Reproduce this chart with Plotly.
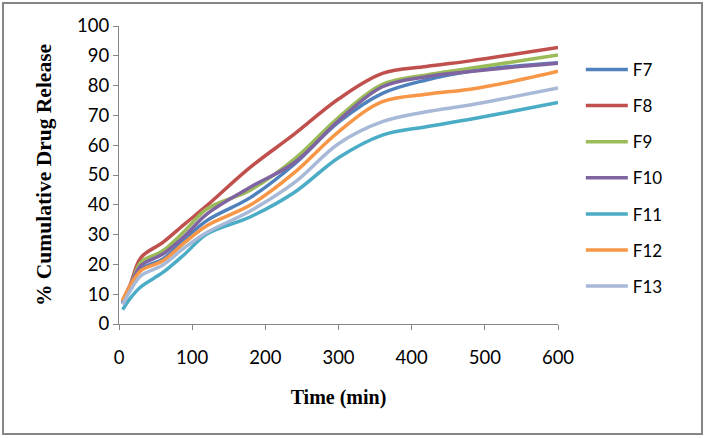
import plotly.graph_objects as go

time_min = [5, 15, 30, 60, 90, 120, 180, 240, 300, 360, 420, 480, 540, 600]
F7 = [7.0, 12.5, 18.4, 21.8, 28.5, 34.7, 42.5, 53.7, 67.7, 77.4, 81.9, 84.8, 86.5, 87.7]
F8 = [8.0, 13.0, 22.3, 27.4, 33.6, 39.7, 52.7, 63.8, 75.5, 84.1, 86.4, 88.3, 90.5, 92.8]
F9 = [7.5, 12.5, 20.7, 24.6, 31.3, 38.6, 45.0, 55.4, 69.3, 80.4, 83.6, 85.8, 88.0, 90.3]
F10 = [7.0, 12.5, 19.6, 23.5, 29.6, 36.9, 46.0, 54.2, 68.2, 79.6, 83.0, 84.7, 86.2, 87.5]
F11 = [4.8, 8.5, 12.5, 17.3, 23.5, 30.2, 36.0, 44.2, 55.8, 63.4, 66.2, 68.7, 71.5, 74.3]
F12 = [7.8, 12.8, 17.9, 21.2, 27.4, 33.0, 40.0, 50.9, 64.5, 74.6, 77.1, 78.8, 81.5, 84.8]
F13 = [6.5, 11.0, 16.2, 19.8, 25.7, 30.7, 38.0, 47.5, 60.5, 67.9, 71.2, 73.5, 76.3, 79.2]

series_names = ["F7", "F8", "F9", "F10", "F11", "F12", "F13"]
series_values = [F7, F8, F9, F10, F11, F12, F13]
colors = ["#4F81BD", "#C0504D", "#9BBB59", "#8064A2", "#4BACC6", "#F79646", "#A7B9D7"]

fig = go.Figure()
for name, vals, col in zip(series_names, series_values, colors):
    fig.add_trace(go.Scatter(
        x=time_min, y=vals, name=name, mode="lines",
        line=dict(color=col, width=3.5, shape="spline", smoothing=1),
        legendgroup=name,
    ))

axis_color = "#868686"
L, T, PW, PH = 119, 26, 439, 298
fig.update_layout(
    width=706, height=438,
    margin=dict(l=L, r=706 - L - PW, t=T, b=438 - T - PH, autoexpand=False),
    paper_bgcolor="white", plot_bgcolor="white",
    font=dict(family="Lato", size=18, color="black"),
    showlegend=True,
    legend=dict(x=1.052, y=0.913, xanchor="left", yanchor="top",
                font=dict(family="Lato", size=17, color="black"),
                tracegroupgap=11, itemwidth=42, bgcolor="rgba(0,0,0,0)"),
    xaxis=dict(range=[0, 600], tickvals=[0, 100, 200, 300, 400, 500, 600],
               showgrid=False, zeroline=False, showline=True, linecolor=axis_color,
               linewidth=1, ticks="outside", tickcolor=axis_color, ticklen=5,
               ticklabelstandoff=12,
               tickfont=dict(family="Lato", size=18.5),
               title=dict(text="<b>Time (min)</b>", standoff=22,
                          font=dict(family="Liberation Serif", size=20))),
    yaxis=dict(range=[0, 100], dtick=10,
               showgrid=False, zeroline=False, showline=True, linecolor=axis_color,
               linewidth=1, ticks="outside", tickcolor=axis_color, ticklen=5,
               tickfont=dict(family="Lato", size=18.5),
               title=dict(text="<b>% Cumulative Drug Release</b>", standoff=19,
                          font=dict(family="Liberation Serif", size=21.5))),
)

fig.add_shape(type="rect", xref="paper", yref="paper",
              x0=(3 - L) / PW, x1=(702 - L) / PW,
              y0=(T + PH - 434) / PH, y1=(T + PH - 3) / PH,
              line=dict(color=axis_color, width=2), fillcolor="rgba(0,0,0,0)",
              layer="above")

fig.write_html("out.html", config={"displayModeBar": False},
               post_script="document.body.style.margin='0';document.body.style.overflow='hidden';")
